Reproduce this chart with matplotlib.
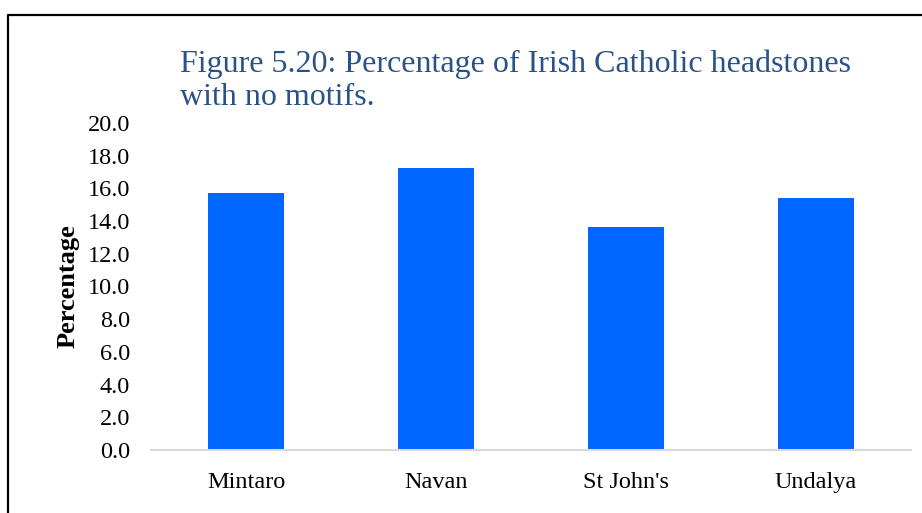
import matplotlib
matplotlib.use("Agg")
import matplotlib.pyplot as plt
from matplotlib.lines import Line2D

# Data
sites = ["Mintaro", "Navan", "St John's", "Undalya"]
pct_no_motifs = [15.7, 17.25, 13.65, 15.4]
y_ticks = [0, 2, 4, 6, 8, 10, 12, 14, 16, 18, 20]
title_lines = ["Figure 5.20: Percentage of Irish Catholic headstones", "with no motifs."]

plt.rcParams['font.family'] = ['Liberation Serif', 'DejaVu Serif']

W, H = 922, 513
fig = plt.figure(figsize=(W / 100, H / 100), dpi=100)
ax = fig.add_axes([151 / W, 63 / H, 760 / W, 327 / H])

ax.bar(range(len(sites)), pct_no_motifs, width=0.405, color='#0066FF')
ax.set_xlim(-0.5, len(sites) - 0.5)
ax.set_ylim(0, 20)
ax.set_yticks(y_ticks)
ax.set_yticklabels([f"{v:.1f}" for v in y_ticks], fontsize=17.5)
ax.set_xticks(range(len(sites)))
ax.set_xticklabels(sites, fontsize=17.5)
ax.tick_params(axis='both', length=0)
ax.tick_params(axis='y', pad=15)
ax.tick_params(axis='x', pad=16)
for side in ['top', 'right', 'left']:
    ax.spines[side].set_visible(False)
ax.spines['bottom'].set_color('#D9D9D9')
ax.spines['bottom'].set_linewidth(1.5)

ax.set_ylabel("Percentage", fontsize=19, fontweight='bold')
ax.yaxis.set_label_coords(-0.094, 0.5)

# title, two lines
fig.text(180 / W, 1 - 72 / H, title_lines[0], fontsize=23, color='#2A5286', va='baseline')
fig.text(180 / W, 1 - 105 / H, title_lines[1], fontsize=23, color='#2A5286', va='baseline')

# frame (left and top edges only visible)
fig.add_artist(Line2D([8 / W, 8 / W, 1], [0, 1 - 15 / H, 1 - 15 / H],
                      transform=fig.transFigure, color='black', lw=1.6))

fig.savefig("out.png", dpi=100)
